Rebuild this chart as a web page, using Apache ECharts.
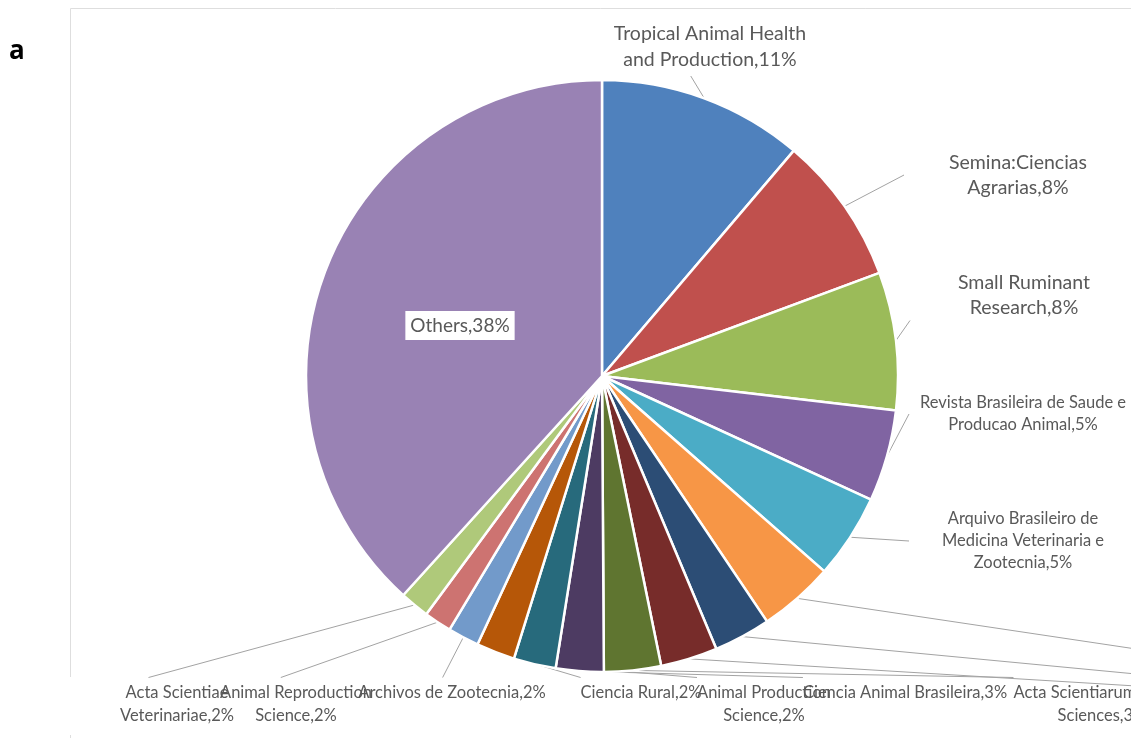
<!DOCTYPE html>
<html>
<head>
<meta charset="utf-8">
<script src="https://cdn.jsdelivr.net/npm/echarts@6/dist/echarts.min.js"></script>
<style>
html,body{margin:0;padding:0;background:#fff;}
#chart{width:1131px;height:738px;}
</style>
</head>
<body>
<div id="chart"></div>
<script>
// ---- data ----
const categories = [
  'Tropical Animal Health\nand Production',
  'Semina:Ciencias\nAgrarias',
  'Small Ruminant\nResearch',
  'Revista Brasileira de Saude e\nProducao Animal',
  'Arquivo Brasileiro de\nMedicina Veterinaria e\nZootecnia',
  'Journal (label cut off) A',
  'Journal (label cut off) B',
  'Journal (label cut off) C',
  'Acta Scientiarum Animal\nSciences',
  'Ciencia Animal Brasileira',
  'Animal Production\nScience',
  'Ciencia Rural',
  'Archivos de Zootecnia',
  'Animal Reproduction\nScience',
  'Acta Scientiae\nVeterinariae',
  'Others'
];
const shares = [11.2, 8.1, 7.5, 5.0, 4.6, 4.1, 3.1, 3.1, 3.1, 2.6, 2.3, 2.1, 1.7, 1.5, 1.6, 38.2];

// ---- styles / layout (not data) ----
const colors = ['#4F81BD','#C0504D','#9BBB59','#8064A2','#4BACC6','#F79646','#2C4D75','#772C2A',
                '#5F7530','#4D3B62','#276A7C','#B65708','#729ACA','#CD7371','#AFC97A','#9982B4'];
const RIGHT_BOX_W = 228;
// label placement: centre x, centre y, leader anchor (+ fraction along label width), font size, line height
const labelPlacement = [
  {x: 710,  y: 47,    a: 'B',   f: 0.4,  fs: 19.5, lh: 26},
  {x: 1018, y: 175,   a: 'L',            fs: 19.5, lh: 25},
  {x: 1024, y: 295.5, a: 'N',            fs: 19.5, lh: 25},
  {x: 1023, y: 414,   a: 'L',            fs: 16.5, lh: 22},
  {x: 1023, y: 541,   a: 'L',            fs: 16.5, lh: 22},
  {x: 1250, y: 660,   a: 'TLB',          fs: 16.5, lh: 22},
  {x: 1250, y: 685,   a: 'TLB',          fs: 16.5, lh: 22},
  {x: 1250, y: 697,   a: 'TLB',          fs: 16.5, lh: 22},
  {x: 1102, y: 704.5, a: 'T',   f: 0.0,  fs: 16.5, lh: 23},
  {x: 905,  y: 693,   a: 'T',   f: 0.0,  fs: 16.5, lh: 23},
  {x: 764,  y: 704.5, a: 'T',   f: 0.0,  fs: 16.5, lh: 23},
  {x: 641,  y: 693,   a: 'T',   f: 0.0,  fs: 16.5, lh: 23},
  {x: 452,  y: 693,   a: 'T',   f: 0.45, fs: 16.5, lh: 23},
  {x: 296,  y: 704.5, a: 'T',   f: 0.4,  fs: 16.5, lh: 23},
  {x: 177,  y: 704.5, a: 'T',   f: 0.25, fs: 16.5, lh: 23},
  {x: 460,  y: 325.5, a: null,           fs: 19,   lh: 20}
];

const total = shares.reduce((s, v) => s + v, 0);

const seriesData = categories.map((name, i) => {
  const p = labelPlacement[i];
  const item = {
    name: name,
    value: shares[i],
    itemStyle: {color: colors[i]},
    label: {fontSize: p.fs, lineHeight: p.lh}
  };
  if (!p.a) {
    item.label.backgroundColor = '#ffffff';
    item.label.padding = [5, 5, 4, 5];
    item.labelLine = {show: false};
  }
  return item;
});

function anchorPoint(p, w, h, p0) {
  const f = p.f == null ? 0.5 : p.f;
  switch (p.a) {
    case 'B':   return [p.x - w / 2 + f * w, p.y + h / 2 + 3];
    case 'T':   return [p.x - w / 2 + f * w, p.y - h / 2 - 4];
    case 'L':   return [p.x - RIGHT_BOX_W / 2, p.y];
    case 'TLB': return [p.x - RIGHT_BOX_W / 2, p.y - h / 2];
    case 'N': {
      const l = p.x - RIGHT_BOX_W / 2, r = p.x + RIGHT_BOX_W / 2;
      const t = p.y - h / 2, b = p.y + h / 2;
      return [Math.min(Math.max(p0[0], l), r), Math.min(Math.max(p0[1], t), b)];
    }
  }
  return null;
}

const chart = echarts.init(document.getElementById('chart'), null, {renderer: 'canvas'});
chart.setOption({
  backgroundColor: '#ffffff',
  animation: false,
  graphic: [
    {type: 'line', shape: {x1: 70.5, y1: 8.5, x2: 1131, y2: 8.5}, style: {stroke: '#dedede', lineWidth: 1}},
    {type: 'line', shape: {x1: 70.5, y1: 8.5, x2: 70.5, y2: 677}, style: {stroke: '#dedede', lineWidth: 1}},
    {type: 'line', shape: {x1: 70.5, y1: 735, x2: 70.5, y2: 738}, style: {stroke: '#dedede', lineWidth: 1}},
    {type: 'text', left: 9, top: 39, style: {text: 'a', font: 'bold 26px "Open Sans"', fill: '#000'}}
  ],
  series: [{
    type: 'pie',
    center: [602, 376],
    radius: 296,
    startAngle: 90,
    clockwise: true,
    avoidLabelOverlap: false,
    itemStyle: {borderColor: '#ffffff', borderWidth: 2.5},
    label: {
      show: true,
      position: 'outside',
      color: '#595959',
      fontFamily: 'Lato, "Open Sans", sans-serif',
      align: 'center',
      overflow: 'none',
      formatter: function (params) {
        return params.name + ',' + Math.round(params.value / total * 100) + '%';
      }
    },
    labelLine: {show: true, lineStyle: {color: '#a3a3a3', width: 1}},
    emphasis: {disabled: true},
    labelLayout: function (params) {
      const p = labelPlacement[params.dataIndex];
      const res = {x: p.x, y: p.y, align: 'center', verticalAlign: 'middle'};
      if (p.a && params.labelLinePoints) {
        const p0 = params.labelLinePoints[0];
        const end = anchorPoint(p, params.labelRect.width, params.labelRect.height, p0);
        res.labelLinePoints = [p0, end];
      }
      return res;
    },
    data: seriesData
  }]
});
</script>
</body>
</html>
